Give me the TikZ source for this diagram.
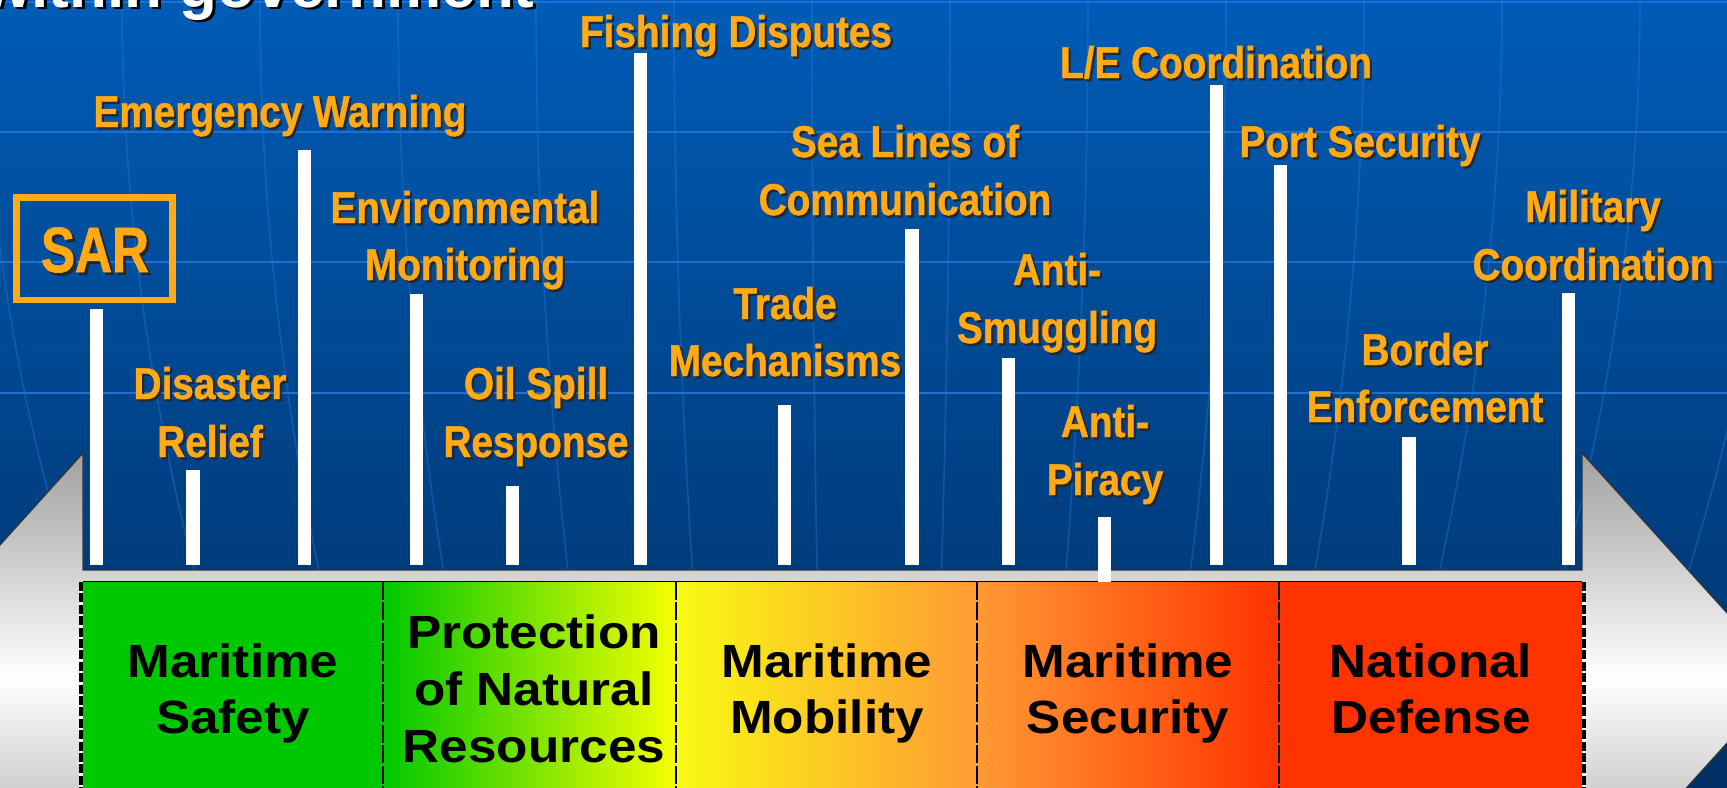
\documentclass[tikz,border=0pt]{standalone}
\usepackage{fontspec}
\setmainfont{Liberation Sans}
\newfontfamily\lblfam[FakeStretch=0.87,FakeBold=1.0]{Liberation Sans}
\newfontfamily\sarfam[FakeStretch=0.8,FakeBold=1.0]{Liberation Sans}
\newfontfamily\boxfam[FakeStretch=1.1]{Liberation Sans}
\definecolor{bgtop}{RGB}{0,92,182}
\definecolor{bgbot}{RGB}{0,48,102}
\definecolor{gridblue}{RGB}{30,112,212}
\definecolor{meridblue}{RGB}{40,120,220}
\definecolor{lblorange}{RGB}{255,170,22}
\definecolor{arrgray}{RGB}{160,160,160}
\definecolor{safegreen}{RGB}{0,200,0}
\definecolor{protyellow}{RGB}{245,255,0}
\definecolor{mobyellow}{RGB}{248,250,20}
\definecolor{midorange}{RGB}{255,154,51}
\definecolor{defred}{RGB}{255,51,0}
\tikzset{
  lbl/.style={anchor=base, inner sep=0pt, text=lblorange,
    font=\lblfam\bfseries\fontsize{22.25pt}{28pt}\selectfont},
  lblshadow/.style={lbl, text=black!85, xshift=1.1pt, yshift=-1.1pt},
  boxtxt/.style={anchor=base, inner sep=0pt, text=black,
    font=\boxfam\bfseries\fontsize{23.3pt}{28pt}\selectfont},
  barfill/.style={fill=white},
  gridline/.style={draw=gridblue, line width=1.4pt},
  meridian/.style={draw=meridblue, line width=0.8pt, opacity=0.4},
  divider/.style={draw=black, line width=1.2pt, dash pattern=on 9pt off 1.2pt},
  outeredge/.style={draw=black, line width=2pt, dash pattern=on 4.5pt off 1.2pt},
}
\newcommand\olbl[4]{%
  \node[lblshadow] at (#2,#3) {#4};
  \node[lbl] (#1) at (#2,#3) {#4};}
\newcommand\bbar[3]{%
  \fill[barfill] (#1-6.6,#2) rectangle (#1+6.6,#3);}
\begin{document}
\begin{tikzpicture}[x=0.5pt,y=-0.5pt]
\useasboundingbox (0,0) rectangle (1727,787);
\clip (0,0) rectangle (1727,787);
% background
\shade[top color=bgtop, bottom color=bgbot] (0,0) rectangle (1727,787);
\foreach \x in {-16,122,...,1778}{
  \pgfmathsetmacro\off{0.186*(863-\x)}
  \draw[meridian] (\x,0) .. controls (\x,262) and (\x+\off/3,525) .. (\x+\off,787);
}
\foreach \y in {2,132,262,393}{
  \draw[gridline] (0,\y) -- (1727,\y);
}
% big gray arrow
\shadedraw[top color=arrgray, bottom color=arrgray, middle color=white,
  draw=black!80, line width=0.6pt]
  (-120,678) -- (83,453) -- (83,570) -- (1582,570) -- (1582,453)
  -- (1786,678) -- (1582,903) -- (83,903) -- cycle;
% category boxes
\fill[safegreen] (83,582) rectangle (383,800);
\shade[left color=safegreen, right color=protyellow] (383,582) rectangle (676,800);
\shade[left color=mobyellow, right color=midorange] (676,582) rectangle (977,800);
\shade[left color=midorange, right color=defred] (977,582) rectangle (1279,800);
\fill[defred] (1279,582) rectangle (1582,800);
\draw[black, line width=0.6pt] (83,581.5) -- (1582,581.5);
\foreach \x in {383,676,977,1279}{
  \draw[divider] (\x,582) -- (\x,800);
}
\draw[white, line width=2pt] (81,582) -- (81,800);
\draw[outeredge] (81,582) -- (81,800);
\draw[white, line width=2pt] (1584,582) -- (1584,800);
\draw[outeredge] (1584,582) -- (1584,800);
% box texts
\node[boxtxt] (ms1) at (233,677) {Maritime};
\node[boxtxt] (ms2) at (233,733) {Safety};
\node[boxtxt] (pn1) at (534,648) {Protection};
\node[boxtxt] (pn2) at (534,705) {of Natural};
\node[boxtxt] (pn3) at (534,762) {Resources};
\node[boxtxt] (mm1) at (827,677) {Maritime};
\node[boxtxt] (mm2) at (827,733) {Mobility};
\node[boxtxt] (sc1) at (1128,677) {Maritime};
\node[boxtxt] (sc2) at (1128,733) {Security};
\node[boxtxt] (nd1) at (1431,677) {National};
\node[boxtxt] (nd2) at (1431,733) {Defense};
% bars
\bbar{96.5}{309}{565}
\bbar{193}{470}{565}
\bbar{304.5}{150}{565}
\bbar{416.5}{294}{565}
\bbar{512.5}{486}{565}
\bbar{640.5}{53}{565}
\bbar{784.5}{405}{565}
\bbar{912}{229}{565}
\bbar{1008.5}{358}{565}
\bbar{1104.5}{517}{582}
\bbar{1216.5}{85}{565}
\bbar{1280.5}{165}{565}
\bbar{1409}{437}{565}
\bbar{1568.5}{293}{565}
% SAR box
\node[draw=lblorange, line width=3.3pt, minimum width=78pt, minimum height=51.3pt,
  inner sep=0pt] (sarbox) at (94.5,248.75) {};
\node[lblshadow, font=\sarfam\bfseries\fontsize{32pt}{36pt}\selectfont,
  xshift=0.3pt, yshift=-0.3pt] at (95,272) {SAR};
\node[lbl, font=\sarfam\bfseries\fontsize{32pt}{36pt}\selectfont] (sar) at (95,272) {SAR};
% labels
\olbl{emw}{280}{127}{Emergency Warning}
\olbl{dis1}{210}{399}{Disaster}
\olbl{dis2}{210}{457}{Relief}
\olbl{env1}{465}{223}{Environmental}
\olbl{env2}{465}{280}{Monitoring}
\olbl{oil1}{536}{399}{Oil Spill}
\olbl{oil2}{536}{457}{Response}
\olbl{fish}{736}{47}{Fishing Disputes}
\olbl{tr1}{785}{319}{Trade}
\olbl{tr2}{785}{376}{Mechanisms}
\olbl{sl1}{905}{157}{Sea Lines of}
\olbl{sl2}{905}{215}{Communication}
\olbl{as1}{1057}{285}{Anti-}
\olbl{as2}{1057}{343}{Smuggling}
\olbl{ap1}{1105}{437}{Anti-}
\olbl{ap2}{1105}{495}{Piracy}
\olbl{le}{1216}{78}{L/E Coordination}
\olbl{port}{1360}{157}{Port Security}
\olbl{bo1}{1425}{365}{Border}
\olbl{bo2}{1425}{422}{Enforcement}
\olbl{mil1}{1593}{222}{Military}
\olbl{mil2}{1593}{280}{Coordination}
% title (cut off at top)
\node[anchor=base east, inner sep=0pt, text=black, xshift=1.5pt, yshift=-1.5pt,
  font=\bfseries\fontsize{31pt}{36pt}\selectfont] at (535,7) {within government};
\node[anchor=base east, inner sep=0pt, text=white,
  font=\bfseries\fontsize{31pt}{36pt}\selectfont] (title) at (535,7) {within government};
\end{tikzpicture}
\end{document}
